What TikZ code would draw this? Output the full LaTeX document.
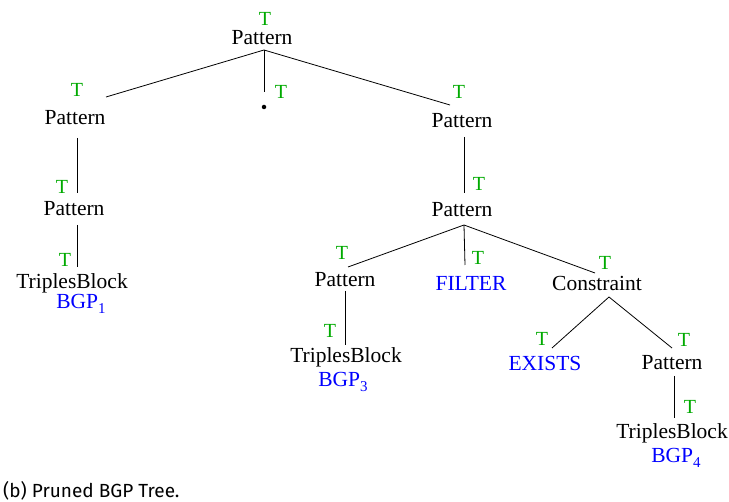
\documentclass[tikz,border=0pt]{standalone}
\usepackage{fontspec}
\setmainfont{Liberation Serif}
\newfontfamily\capfont{Fira Sans}
\usetikzlibrary{calc}
\definecolor{tgreen}{RGB}{0,170,0}
\definecolor{tblue}{RGB}{0,0,255}
\begin{document}
\begin{tikzpicture}[x=1pt,y=-1pt,
  lbl/.style={inner sep=0pt,font=\fontsize{21.5}{24}\selectfont},
  kw/.style={lbl,text=tblue},
  tt/.style={inner sep=0pt,text=tgreen,font=\fontsize{20}{22}\selectfont},
  edge/.style={draw=black,line width=0.8pt}]
\useasboundingbox (0,0) rectangle (729,502);
\newcommand{\bgp}[1]{BGP\raisebox{-5pt}{\fontsize{15}{15}\selectfont #1}}
% nodes
\node[lbl] (root) at (262,38) {Pattern};
\node[tt] (troot) at (265,19) {T};
\node[lbl] (pl) at (75,118) {Pattern};
\node[tt] (tpl) at (77,90) {T};
\node[circle,fill=black,inner sep=0pt,minimum size=4.5pt] (dot) at (264,107) {};
\node[tt] (tdot) at (281,92) {T};
\node[lbl] (pr) at (462,121) {Pattern};
\node[tt] (tpr) at (459,92) {T};
\node[lbl] (pl2) at (74,209) {Pattern};
\node[tt] (tpl2) at (62,187) {T};
\node[lbl] (tb1) at (72,283) {TriplesBlock};
\node[tt] (ttb1) at (65,260) {T};
\node[kw] (bgp1) at (81,304) {\bgp{1}};
\node[lbl] (pr2) at (462,210) {Pattern};
\node[tt] (tpr2) at (479,184) {T};
\node[lbl] (pa) at (345,280) {Pattern};
\node[tt] (tpa) at (342,253) {T};
\node[kw] (filter) at (471,283) {FILTER};
\node[tt] (tfilter) at (478,258) {T};
\node[lbl] (cons) at (597,283) {Constraint};
\node[tt] (tcons) at (605,263) {T};
\node[lbl] (tb3) at (346,357) {TriplesBlock};
\node[tt] (ttb3) at (330,331) {T};
\node[kw] (bgp3) at (343,382) {\bgp{3}};
\node[kw] (exists) at (545,363) {EXISTS};
\node[tt] (texists) at (542,339) {T};
\node[lbl] (pb) at (672,363) {Pattern};
\node[tt] (tpb) at (684,340) {T};
\node[lbl] (tb4) at (672,433) {TriplesBlock};
\node[tt] (ttb4) at (690,407) {T};
\node[kw] (bgp4) at (676,458) {\bgp{4}};
\node[anchor=west,inner sep=0pt,font=\capfont\fontsize{19}{21}\selectfont] (cap) at (3,491) {(b) Pruned BGP Tree.};
% edges
\draw[edge] ($(root)+(2,12)$) -- ($(pl)+(31,-21)$);
\draw[edge] ($(root)+(2,12)$) -- ($(dot)+(0,-15)$);
\draw[edge] ($(root)+(2,12)$) -- ($(pr)+(-12,-16)$);
\draw[edge] ($(pl)+(2,20)$) -- ($(pl2)+(3,-16)$);
\draw[edge] ($(pl2)+(3,16)$) -- ($(tb1)+(5,-16)$);
\draw[edge] ($(pr)+(2,16)$) -- ($(pr2)+(2,-17)$);
\draw[edge] ($(pr2)+(2,15)$) -- ($(pa)+(3,-13)$);
\draw[edge] ($(pr2)+(2,15)$) -- ($(filter)+(-6,-18)$);
\draw[edge] ($(pr2)+(2,15)$) -- ($(cons)+(-2,-10)$);
\draw[edge] ($(pa)+(0,11)$) -- ($(tb3)+(-1,-12)$);
\draw[edge] ($(cons)+(12,14)$) -- ($(exists)+(7,-15)$);
\draw[edge] ($(cons)+(12,14)$) -- ($(pb)+(0,-15)$);
\draw[edge] ($(pb)+(2,13)$) -- ($(tb4)+(2,-15)$);
\end{tikzpicture}
\end{document}
